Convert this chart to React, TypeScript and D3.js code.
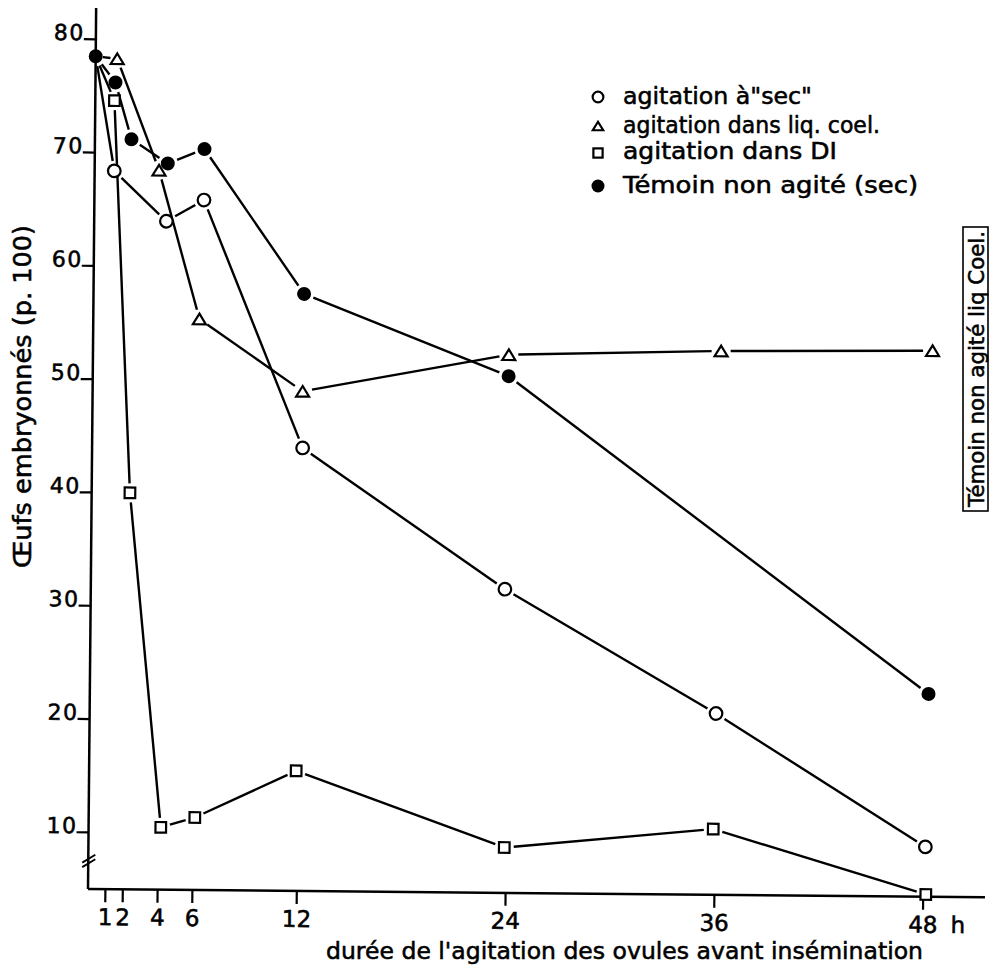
import React from 'react';
import * as d3 from 'd3';

// ---- data ----
const xTicks = [1, 2, 4, 6, 12, 24, 36, 48];
const yTicks = [10, 20, 30, 40, 50, 60, 70, 80];

const secHours = [0, 1.13, 4.15, 6.3, 12.1, 23.8, 36.0, 48.1];
const secValues = [78.5, 68.4, 64.0, 65.9, 44.1, 31.8, 21.0, 9.4];

const coelHours = [0, 1.24, 3.7, 6.1, 12.07, 23.9, 36.1, 48.25];
const coelValues = [78.5, 78.3, 68.5, 55.4, 49.1, 52.5, 53.0, 53.2];

const diHours = [0, 1.1, 2.2, 4.15, 6.1, 11.9, 23.9, 35.9, 48.15];
const diValues = [78.5, 74.6, 40.0, 10.5, 11.4, 15.6, 9.0, 10.8, 5.2];

const temoinHours = [0, 1.15, 2.1, 4.2, 6.3, 12.1, 23.9, 48.2];
const temoinValues = [78.5, 76.2, 71.2, 69.1, 70.4, 57.7, 50.6, 22.9];

const legendLabels = [
  'agitation à"sec"',
  'agitation dans liq. coel.',
  'agitation dans DI',
  'Témoin non agité (sec)',
];
const xTitle = "durée de l'agitation des ovules avant insémination";
const yTitle = 'Œufs embryonnés (p. 100)';
const sideLabel = 'Témoin non agité liq Coel.';
const unitLabel = 'h';
const yBreakValue = 7.5;

type MType = 'open' | 'triangle' | 'square' | 'filled';

const series: { hours: number[]; values: number[]; type: MType }[] = [
  { hours: secHours, values: secValues, type: 'open' },
  { hours: coelHours, values: coelValues, type: 'triangle' },
  { hours: diHours, values: diValues, type: 'square' },
  { hours: temoinHours, values: temoinValues, type: 'filled' },
];

const FONT = '"DejaVu Sans", "Liberation Sans", sans-serif';
const GAP: Record<MType, number> = { open: 10, triangle: 9.5, square: 9.5, filled: 10 };
const TXT = { stroke: 'black', strokeWidth: 0.55 };

function Marker({ type, cx, cy, s = 1 }: { type: MType; cx: number; cy: number; s?: number }) {
  if (type === 'open')
    return <circle cx={cx} cy={cy} r={6.3 * s} fill="white" stroke="black" strokeWidth={2.2} />;
  if (type === 'filled') return <circle cx={cx} cy={cy} r={7 * s} fill="black" />;
  if (type === 'triangle') {
    const w = 6.5 * s, h = 5.3 * s;
    return (
      <path
        d={`M${cx},${cy - h} L${cx + w},${cy + h} L${cx - w},${cy + h} Z`}
        fill="white"
        stroke="black"
        strokeWidth={2.2}
        strokeLinejoin="miter"
      />
    );
  }
  const h = 5.3 * s;
  return <rect x={cx - h} y={cy - h} width={2 * h} height={2 * h} fill="white" stroke="black" strokeWidth={2.2} />;
}

export default function App() {
  const x = d3.scaleLinear().domain([0, 48]).range([88, 923.2]);
  const y = d3.scaleLinear().domain([5, 80]).range([889, 39.25]);
  const line = d3.line<[number, number]>();
  const x0 = x(0);
  const yb = y(yBreakValue);

  const segments: string[] = [];
  series.forEach((sr) => {
    const pts = sr.hours.map((h, i) => [x(h), y(sr.values[i])] as [number, number]);
    for (let i = 0; i < pts.length - 1; i++) {
      const [ax, ay] = pts[i];
      const [bx, by] = pts[i + 1];
      const len = Math.hypot(bx - ax, by - ay);
      let g0 = i === 0 ? GAP.filled : GAP[sr.type];
      let g1 = GAP[sr.type];
      const minLen = Math.min(8, len * 0.35);
      if (len - g0 - g1 < minLen) {
        const k = (len - minLen) / (g0 + g1);
        g0 *= k;
        g1 *= k;
      }
      const ux = (bx - ax) / len, uy = (by - ay) / len;
      segments.push(
        line([
          [ax + ux * g0, ay + uy * g0],
          [bx - ux * g1, by - uy * g1],
        ]) as string
      );
    }
  });

  const markers: React.ReactNode[] = [];
  series.forEach((sr, si) => {
    sr.hours.forEach((h, i) => {
      if (h === 0 && sr.type !== 'filled') return;
      markers.push(<Marker key={`${si}-${i}`} type={sr.type} cx={x(h)} cy={y(sr.values[i])} />);
    });
  });

  const legendTypes: MType[] = ['open', 'triangle', 'square', 'filled'];
  const legendY = [104, 133, 159, 193];
  const legendMarkY = [97, 126, 153, 186];
  const legendLen = [189, 257, 214, 295];
  const legendScale = [0.85, 0.8, 0.87, 0.93];

  return (
    <svg
      width={994}
      height={968}
      viewBox="0 0 994 968"
      style={{ position: 'absolute', left: 0, top: 0, background: 'white' }}
      fontFamily={FONT}
    >
      <rect x={0} y={0} width={994} height={968} fill="white" />
      <g transform="rotate(0.53 88 889)">
        {/* axes */}
        <line x1={x0} y1={y(5)} x2={x0} y2={8} stroke="black" strokeWidth={2.5} />
        <line x1={x0} y1={y(5)} x2={985} y2={y(5)} stroke="black" strokeWidth={2.5} />
        {/* axis break */}
        <line x1={x0 - 6} y1={yb + 2} x2={x0 + 7} y2={yb - 6} stroke="black" strokeWidth={2} />
        <line x1={x0 - 6} y1={yb + 6.5} x2={x0 + 7} y2={yb - 1.5} stroke="black" strokeWidth={2} />
        {/* y ticks */}
        {yTicks.map((t) => (
          <g key={`y${t}`}>
            <line x1={x0 - 12} y1={y(t)} x2={x0} y2={y(t)} stroke="black" strokeWidth={2.2} />
            <text x={x0 - 11} y={y(t) + 1} fontSize={22} textAnchor="end" letterSpacing={1.5} {...TXT}>
              {t}
            </text>
          </g>
        ))}
        {/* x ticks */}
        {xTicks.map((t) => (
          <g key={`x${t}`}>
            <line x1={x(t)} y1={y(5)} x2={x(t)} y2={y(5) + 13} stroke="black" strokeWidth={2.2} />
            <text x={x(t)} y={925} fontSize={23} textAnchor="middle" {...TXT}>
              {t}
            </text>
          </g>
        ))}
        <text x={x(48) + 35} y={925} fontSize={23} textAnchor="middle" {...TXT}>
          {unitLabel}
        </text>
        {/* series lines */}
        {segments.map((d, i) => (
          <path key={i} d={d} fill="none" stroke="black" strokeWidth={2.4} strokeLinecap="butt" />
        ))}
        {markers}
      </g>

      {/* x title */}
      <text
        x={624.5}
        y={959}
        fontSize={23.5}
        textAnchor="middle"
        textLength={597}
        lengthAdjust="spacingAndGlyphs"
        {...TXT}
      >
        {xTitle}
      </text>
      {/* y title */}
      <text
        transform="translate(31,396.5) rotate(-90)"
        fontSize={24}
        textAnchor="middle"
        textLength={343}
        lengthAdjust="spacingAndGlyphs"
        {...TXT}
      >
        {yTitle}
      </text>
      {/* legend */}
      {legendLabels.map((lab, i) => (
        <g key={`lg${i}`}>
          <Marker type={legendTypes[i]} cx={598} cy={legendMarkY[i]} s={legendScale[i]} />
          <text
            x={623}
            y={legendY[i]}
            fontSize={23}
            textLength={legendLen[i]}
            lengthAdjust="spacingAndGlyphs"
            {...TXT}
          >
            {lab}
          </text>
        </g>
      ))}
      {/* side label */}
      <rect x={963} y={227} width={25} height={284} fill="none" stroke="black" strokeWidth={1.6} />
      <text
        transform="translate(984,369) rotate(-90)"
        fontSize={21}
        textAnchor="middle"
        textLength={276}
        lengthAdjust="spacingAndGlyphs"
        {...TXT}
      >
        {sideLabel}
      </text>
    </svg>
  );
}
